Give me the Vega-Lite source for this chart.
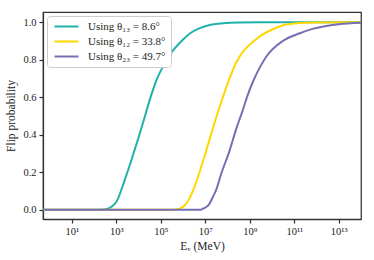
{
  "$schema": "https://vega.github.io/schema/vega-lite/v6.json",
  "width": 318,
  "height": 207,
  "autosize": {"type": "none"},
  "padding": {"left": 43, "top": 12, "right": 13, "bottom": 41},
  "config": {
    "font": "Liberation Serif",
    "view": {"stroke": "#333", "strokeWidth": 1.25},
    "axis": {
      "grid": false,
      "domainColor": "#333",
      "domainWidth": 1.25,
      "tickColor": "#333",
      "tickWidth": 1.25,
      "tickSize": 4,
      "labelFont": "Liberation Serif",
      "labelFontSize": 10.5,
      "labelColor": "#222",
      "labelPadding": 3,
      "titleFont": "Liberation Serif",
      "titleFontSize": 11.5,
      "titleFontWeight": "normal",
      "titleColor": "#222"
    },
    "legend": {
      "labelFont": "Liberation Serif",
      "labelFontSize": 11,
      "labelColor": "#222"
    }
  },
  "data": {
    "values": [
      {"series": "Using θ₁₃ = 8.6°", "E": 0.501, "P": 0},
      {"series": "Using θ₁₃ = 8.6°", "E": 199.5, "P": 0},
      {"series": "Using θ₁₃ = 8.6°", "E": 354.8, "P": 0.003},
      {"series": "Using θ₁₃ = 8.6°", "E": 501.2, "P": 0.01},
      {"series": "Using θ₁₃ = 8.6°", "E": 707.9, "P": 0.022},
      {"series": "Using θ₁₃ = 8.6°", "E": 1000, "P": 0.042},
      {"series": "Using θ₁₃ = 8.6°", "E": 2399, "P": 0.16},
      {"series": "Using θ₁₃ = 8.6°", "E": 4786, "P": 0.266},
      {"series": "Using θ₁₃ = 8.6°", "E": 9333, "P": 0.375},
      {"series": "Using θ₁₃ = 8.6°", "E": 15849, "P": 0.465},
      {"series": "Using θ₁₃ = 8.6°", "E": 31623, "P": 0.586},
      {"series": "Using θ₁₃ = 8.6°", "E": 63096, "P": 0.69},
      {"series": "Using θ₁₃ = 8.6°", "E": 147911, "P": 0.78},
      {"series": "Using θ₁₃ = 8.6°", "E": 251189, "P": 0.826},
      {"series": "Using θ₁₃ = 8.6°", "E": 1000000, "P": 0.908},
      {"series": "Using θ₁₃ = 8.6°", "E": 1995262, "P": 0.94},
      {"series": "Using θ₁₃ = 8.6°", "E": 5623413, "P": 0.969},
      {"series": "Using θ₁₃ = 8.6°", "E": 15848932, "P": 0.986},
      {"series": "Using θ₁₃ = 8.6°", "E": 63095734, "P": 0.995},
      {"series": "Using θ₁₃ = 8.6°", "E": 316227766, "P": 0.999},
      {"series": "Using θ₁₃ = 8.6°", "E": 3162277660, "P": 1.0},
      {"series": "Using θ₁₃ = 8.6°", "E": 1e14, "P": 1.0},

      {"series": "Using θ₁₂ = 33.8°", "E": 0.501, "P": 0},
      {"series": "Using θ₁₂ = 33.8°", "E": 316228, "P": 0},
      {"series": "Using θ₁₂ = 33.8°", "E": 588844, "P": 0.003},
      {"series": "Using θ₁₂ = 33.8°", "E": 831764, "P": 0.01},
      {"series": "Using θ₁₂ = 33.8°", "E": 1174898, "P": 0.022},
      {"series": "Using θ₁₂ = 33.8°", "E": 1949845, "P": 0.06},
      {"series": "Using θ₁₂ = 33.8°", "E": 3311311, "P": 0.124},
      {"series": "Using θ₁₂ = 33.8°", "E": 9120108, "P": 0.284},
      {"series": "Using θ₁₂ = 33.8°", "E": 15488166, "P": 0.375},
      {"series": "Using θ₁₂ = 33.8°", "E": 25703958, "P": 0.462},
      {"series": "Using θ₁₂ = 33.8°", "E": 72443596, "P": 0.625},
      {"series": "Using θ₁₂ = 33.8°", "E": 245470892, "P": 0.785},
      {"series": "Using θ₁₂ = 33.8°", "E": 338844156, "P": 0.815},
      {"series": "Using θ₁₂ = 33.8°", "E": 1905460718, "P": 0.91},
      {"series": "Using θ₁₂ = 33.8°", "E": 10715193052, "P": 0.963},
      {"series": "Using θ₁₂ = 33.8°", "E": 31622776602, "P": 0.984},
      {"series": "Using θ₁₂ = 33.8°", "E": 165958690744, "P": 0.996},
      {"series": "Using θ₁₂ = 33.8°", "E": 1e12, "P": 0.999},
      {"series": "Using θ₁₂ = 33.8°", "E": 1e14, "P": 1.0},

      {"series": "Using θ₂₃ = 49.7°", "E": 0.501, "P": 0},
      {"series": "Using θ₂₃ = 49.7°", "E": 6309573, "P": 0},
      {"series": "Using θ₂₃ = 49.7°", "E": 7079458, "P": 0.003},
      {"series": "Using θ₂₃ = 49.7°", "E": 10000000, "P": 0.011},
      {"series": "Using θ₂₃ = 49.7°", "E": 14125375, "P": 0.025},
      {"series": "Using θ₂₃ = 49.7°", "E": 21877616, "P": 0.068},
      {"series": "Using θ₂₃ = 49.7°", "E": 31622777, "P": 0.11},
      {"series": "Using θ₂₃ = 49.7°", "E": 51286138, "P": 0.19},
      {"series": "Using θ₂₃ = 49.7°", "E": 123026877, "P": 0.315},
      {"series": "Using θ₂₃ = 49.7°", "E": 251188643, "P": 0.435},
      {"series": "Using θ₂₃ = 49.7°", "E": 478630092, "P": 0.53},
      {"series": "Using θ₂₃ = 49.7°", "E": 794328235, "P": 0.61},
      {"series": "Using θ₂₃ = 49.7°", "E": 1348962883, "P": 0.68},
      {"series": "Using θ₂₃ = 49.7°", "E": 3162277660, "P": 0.77},
      {"series": "Using θ₂₃ = 49.7°", "E": 5370317964, "P": 0.815},
      {"series": "Using θ₂₃ = 49.7°", "E": 30199517204, "P": 0.9},
      {"series": "Using θ₂₃ = 49.7°", "E": 165958690744, "P": 0.94},
      {"series": "Using θ₂₃ = 49.7°", "E": 660693448008, "P": 0.965},
      {"series": "Using θ₂₃ = 49.7°", "E": 1e13, "P": 0.99},
      {"series": "Using θ₂₃ = 49.7°", "E": 1e14, "P": 0.998}
    ]
  },
  "mark": {"type": "line", "strokeWidth": 2, "clip": true, "interpolate": "monotone"},
  "encoding": {
    "x": {
      "field": "E",
      "type": "quantitative",
      "scale": {"type": "log", "domain": [0.501, 1e14], "nice": false},
      "axis": {
        "title": "Eᵥ (MeV)",
        "values": [10, 1000, 100000, 10000000, 1000000000, 100000000000, 10000000000000],
        "labelExpr": "'10' + ['','¹','','³','','⁵','','⁷','','⁹','','¹¹','','¹³'][round(log(datum.value)/LN10)]",
        "titlePadding": 4
      }
    },
    "y": {
      "field": "P",
      "type": "quantitative",
      "scale": {"domain": [-0.05, 1.055], "nice": false, "zero": false},
      "axis": {
        "title": "Flip probability",
        "values": [0, 0.2, 0.4, 0.6, 0.8, 1.0],
        "format": ".1f",
        "titlePadding": 6
      }
    },
    "color": {
      "field": "series",
      "type": "nominal",
      "scale": {
        "domain": ["Using θ₁₃ = 8.6°", "Using θ₁₂ = 33.8°", "Using θ₂₃ = 49.7°"],
        "range": ["#20b2aa", "#ffd700", "#7570b3"]
      },
      "legend": {
        "title": null,
        "orient": "top-left",
        "offset": 4,
        "padding": 5,
        "fillColor": "white",
        "strokeColor": "#cccccc",
        "cornerRadius": 3,
        "symbolType": "M-1,0H7",
        "symbolSize": 36,
        "symbolStrokeWidth": 2,
        "labelOffset": 25,
        "rowPadding": 3
      }
    }
  }
}
